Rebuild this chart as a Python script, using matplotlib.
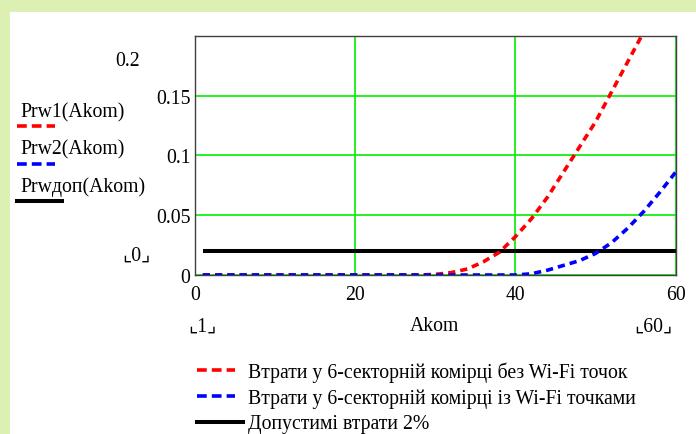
import matplotlib
matplotlib.use("Agg")
import matplotlib.pyplot as plt
from matplotlib.lines import Line2D
from matplotlib.patches import Rectangle

# ---- data ----
akom = [1, 2, 4, 6, 8, 10, 12, 14, 16, 18, 20, 22, 24, 26, 28,
        30, 32, 34, 36, 38, 40, 42, 44, 46, 48, 50, 52, 54, 56, 58, 60]
prw1 = [0, 0, 0, 0, 0, 0, 0, 0, 0, 0, 0, 0, 0, 0, 0,
        0.0005, 0.002, 0.005, 0.011, 0.019, 0.032, 0.047, 0.065, 0.086,
        0.107, 0.128, 0.153, 0.178, 0.203, 0.23, 0.258]
prw2 = [0, 0, 0, 0, 0, 0, 0, 0, 0, 0, 0, 0, 0, 0, 0,
        0, 0, 0, 0, 0, 0, 0.001, 0.004, 0.008, 0.012, 0.018, 0.027,
        0.039, 0.053, 0.069, 0.086]
prw_dop = 0.02
xticks = [0, 20, 40, 60]
yticks = [0, 0.05, 0.1, 0.15]
ytick_labels = ["0", "0.05", "0.1", "0.15"]
legend_labels = ["Втрати у 6-секторній комірці без Wi-Fi точок",
                 "Втрати у 6-секторній комірці із Wi-Fi точками",
                 "Допустимі втрати 2%"]
left_labels = ["Prw1(Akom)", "Prw2(Akom)", "Prwдоп(Akom)"]

W, H = 696, 435
FONT = ["Liberation Serif", "DejaVu Serif"]
FS = 14.2
plt.rcParams["font.family"] = FONT

fig = plt.figure(figsize=(W / 100, H / 100), dpi=100)
fig.patch.set_facecolor("#dcf0b4")
fig.add_artist(Rectangle((10 / W, 0), 1, (H - 13) / H, transform=fig.transFigure,
                         facecolor="white", edgecolor="none", zorder=0))


def fx(x):
    return x / W


def fy(y):
    return 1 - y / H


ax = fig.add_axes([fx(194.7), fy(276), (675.7 - 194.7) / W, (276 - 36.7) / H])
ax.set_xlim(0, 60)
ax.set_ylim(0, 0.2)
ax.set_xticks(xticks)
ax.set_yticks(yticks)
ax.set_yticklabels(ytick_labels)
ax.tick_params(length=0, labelsize=FS, pad=3)
ax.tick_params(axis="x", pad=7)
ax.grid(True, color="#00ee00", lw=1.2)
ax.set_axisbelow(True)
for s in ax.spines.values():
    s.set_color("#404040")
    s.set_linewidth(1.0)

RED = "#ff0000"
BLUE = "#0000ff"
LW = 2.6
dash = (0, (2.0, 1.4))
ldash = (0, (2.7, 1.4))
ax.plot([1, 60], [prw_dop, prw_dop], color="black", lw=2.9, solid_capstyle="butt", zorder=3)
ax.plot(akom, prw1, color=RED, lw=LW, linestyle=dash, zorder=4)
ax.plot(akom, prw2, color=BLUE, lw=LW, linestyle=dash, zorder=5)

# left-hand labels (Mathcad style)
tkw = dict(fontsize=FS, family=FONT, color="black")
fig.text(fx(20), fy(113), left_labels[0], ha="left", va="center", **tkw)
fig.text(fx(20), fy(150), left_labels[1], ha="left", va="center", **tkw)
fig.text(fx(20), fy(187), left_labels[2], ha="left", va="center", **tkw)
fig.add_artist(Line2D([fx(17), fx(55)], [fy(127), fy(127)], color=RED, lw=LW,
                      linestyle=ldash, transform=fig.transFigure))
fig.add_artist(Line2D([fx(17), fx(55)], [fy(165), fy(165)], color=BLUE, lw=LW,
                      linestyle=ldash, transform=fig.transFigure))
fig.add_artist(Line2D([fx(17), fx(62)], [fy(202), fy(202)], color="black", lw=2.9,
                      transform=fig.transFigure))

fig.text(fx(128), fy(62), "0.2", ha="center", va="center", **tkw)
bk = dict(fontsize=FS, family=["Liberation Serif", "DejaVu Sans"], color="black")
fig.text(fx(136), fy(256), "⌞0⌟", ha="center", va="center", **bk)
fig.text(fx(202), fy(327), "⌞1⌟", ha="center", va="center", **bk)
fig.text(fx(653), fy(327), "⌞60⌟", ha="center", va="center", **bk)
fig.text(fx(435), fy(327), "Akom", ha="center", va="center", **tkw)

# bottom legend
for ytxt, col, lab, ls, lw, x2 in [(371, RED, legend_labels[0], ldash, LW, 235),
                                   (397, BLUE, legend_labels[1], ldash, LW, 235),
                                   (423, "black", legend_labels[2], "-", 2.9, 243)]:
    fig.add_artist(Line2D([fx(197), fx(x2)], [fy(ytxt), fy(ytxt)], color=col, lw=lw,
                          linestyle=ls, transform=fig.transFigure))
    fig.text(fx(248), fy(ytxt + 2), lab, ha="left", va="center", **tkw)

fig.savefig("out.png", dpi=100, facecolor=fig.get_facecolor())
